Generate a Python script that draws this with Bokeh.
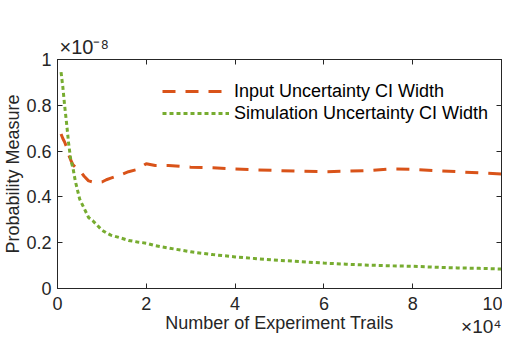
from bokeh.plotting import figure
from bokeh.models import Range1d, LinearAxis, Title, Legend, LegendItem, FixedTicker
from bokeh.embed import file_html
from bokeh.resources import INLINE

# Number of experiment trails (in units of 10^4)
trials = [0.08, 0.12, 0.16, 0.2, 0.25, 0.3, 0.35, 0.4, 0.5, 0.6, 0.7, 0.8, 0.9, 1.0,
          1.1, 1.2, 1.4, 1.6, 1.8, 2.0, 2.2, 2.5, 3.0, 3.5, 4.0, 4.5, 5.0, 5.5, 6.0,
          6.5, 7.0, 7.5, 8.0, 8.5, 9.0, 9.5, 10.0]
# CI widths (in units of 10^-8)
input_ci = [0.675, 0.655, 0.64, 0.62, 0.585, 0.56, 0.54, 0.53, 0.515, 0.49, 0.47, 0.465,
            0.463, 0.465, 0.475, 0.482, 0.495, 0.51, 0.52, 0.545, 0.537, 0.537, 0.53,
            0.527, 0.522, 0.518, 0.515, 0.512, 0.51, 0.512, 0.515, 0.522, 0.52, 0.515,
            0.51, 0.505, 0.50]
sim_ci = [0.945, 0.88, 0.80, 0.73, 0.635, 0.56, 0.525, 0.47, 0.39, 0.35, 0.31, 0.295,
          0.275, 0.255, 0.243, 0.233, 0.222, 0.21, 0.203, 0.198, 0.187, 0.177, 0.16,
          0.148, 0.138, 0.13, 0.123, 0.117, 0.111, 0.106, 0.102, 0.099, 0.097, 0.093,
          0.09, 0.088, 0.085]
series_names = ["Input Uncertainty CI Width", "Simulation Uncertainty CI Width"]
x_ticks = [0, 2, 4, 6, 8, 10]
x_labels = ["0", "2", "4", "6", "8", "10"]
y_ticks = [0, 0.2, 0.4, 0.6, 0.8, 1]
y_labels = ["0", "0.2", "0.4", "0.6", "0.8", "1"]
x_exponent = "×10⁴"
y_exponent = "×10⁻⁸"

FONT = "Liberation Sans"
AX = "#262626"
FS = "18px"

p = figure(width=502, height=338, output_backend="svg", toolbar_location=None,
           x_range=Range1d(0, 10), y_range=Range1d(0, 1),
           min_border_left=50, min_border_right=1, min_border_top=59,
           min_border_bottom=50)
p.outline_line_color = AX
p.outline_line_width = 1
p.xgrid.visible = False
p.ygrid.visible = False
p.background_fill_color = "white"
p.border_fill_color = "white"

r1 = p.line(trials, input_ci, line_color="#D95319", line_width=3, line_dash="13 10")
r2 = p.line(trials, sim_ci, line_color="#77AC30", line_width=3, line_dash="4 3")


def style(ax, ticks, labels, show):
    ax.ticker = FixedTicker(ticks=ticks)
    ax.major_tick_in = 5
    ax.major_tick_out = 0
    ax.minor_tick_line_color = None
    ax.axis_line_color = AX
    ax.major_tick_line_color = AX
    ax.major_label_text_font = FONT
    ax.major_label_text_color = AX
    ax.major_label_text_font_size = FS
    if show:
        ax.major_label_overrides = {t: l for t, l in zip(ticks, labels)}
    else:
        ax.major_label_overrides = {t: "" for t in ticks}
        ax.major_label_standoff = 0


xa = p.xaxis[0]
ya = p.yaxis[0]
style(xa, x_ticks, x_labels, True)
style(ya, y_ticks, y_labels, True)
xa.major_label_standoff = 8
ya.major_label_standoff = 6
xa.axis_label = "Number of Experiment Trails"
ya.axis_label = "Probability Measure"
for ax in (xa, ya):
    ax.axis_label_text_font = FONT
    ax.axis_label_text_font_size = FS
    ax.axis_label_text_font_style = "normal"
    ax.axis_label_text_color = AX
xa.axis_label_standoff = 0
ya.axis_label_standoff = 0

top = LinearAxis()
right = LinearAxis()
style(top, x_ticks, x_labels, False)
style(right, y_ticks, y_labels, False)
p.add_layout(top, "above")
p.add_layout(right, "right")

legend = Legend(items=[LegendItem(label=series_names[0], renderers=[r1]),
                       LegendItem(label=series_names[1], renderers=[r2])],
                location=(105, 164), glyph_width=67, glyph_height=22,
                label_height=22, label_standoff=5, spacing=0, padding=0, margin=0,
                border_line_alpha=0, background_fill_alpha=0,
                label_text_font=FONT, label_text_font_size=FS,
                label_text_color="black")
p.add_layout(legend)

# exponent annotations (MATLAB-style multipliers)
t_top = Title(text=y_exponent, align="left", offset=2, standoff=3)
t_top.text_font = FONT
t_top.text_font_size = "20px"
t_top.text_font_style = "normal"
t_top.text_color = AX
p.add_layout(t_top, "above")

t_bot = Title(text=x_exponent, align="right", offset=0, standoff=-40,
              vertical_align="top")
t_bot.text_font = FONT
t_bot.text_font_size = "19px"
t_bot.text_font_style = "normal"
t_bot.text_color = AX
p.add_layout(t_bot, "below")

open("out.html", "w").write(file_html(p, INLINE))
